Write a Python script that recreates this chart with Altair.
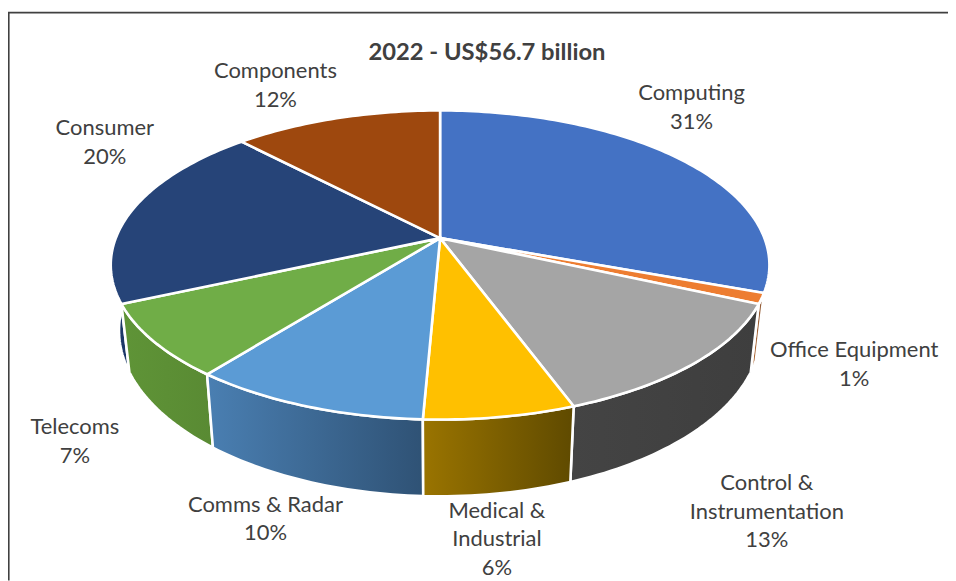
import math
import altair as alt

categories = ["Computing", "Office Equipment", "Control & Instrumentation", "Medical & Industrial",
              "Comms & Radar", "Telecoms", "Consumer", "Components"]
shares = [30.6, 1.1, 12.7, 6.3, 9.95, 7.65, 19.6, 12.1]
percent_labels = ["31%", "1%", "13%", "6%", "10%", "7%", "20%", "12%"]
label_lines = ["Computing", "Office Equipment", "Control &\nInstrumentation", "Medical &\nIndustrial",
               "Comms & Radar", "Telecoms", "Consumer", "Components"]
top_colors = ["#4472C4", "#ED7D31", "#A5A5A5", "#FFC000", "#5B9BD5", "#70AD47", "#264478", "#9E480E"]
wall_stops = [("#2F5597", "#2F5597"), ("#B5682F", "#8A5A3A"), ("#444444", "#3E3E3E"), ("#9A7400", "#5F4A00"),
              ("#4A7FB2", "#2F5275"), ("#5F9437", "#598A33"), ("#1B3768", "#1B3768"), ("#6E3209", "#6E3209")]
title_text = "2022 - US$56.7 billion"

# layout (image pixels): centre of each label's first line
label_firsts = [(693, 93), (856, 350), (768.5, 483), (498, 511), (266, 505), (75, 427), (105, 128), (276, 71)]
MARGIN = 8
CX, CY, A, B, K = 441, 238, 325, 150.2, 0.174
DEPTH, SHRINK = 63.5, 0.975


def project(theta, bottom=False):
    u, v = math.sin(theta), math.cos(theta)
    s = 1 / (1 + K * v)
    x, y = A * u * s, B * v * s
    if bottom:
        return [CX - MARGIN + x * SHRINK, CY - MARGIN - y + DEPTH * s]
    return [CX - MARGIN + x, CY - MARGIN - y]


def arc(t0, t1, bottom=False):
    n = max(2, int(abs(t1 - t0) / 0.02))
    return [project(t0 + (t1 - t0) * i / n, bottom) for i in range(n + 1)]


def feature(name, ring):
    return {"type": "Feature", "properties": {"name": name},
            "geometry": {"type": "Polygon", "coordinates": [ring + [ring[0]]]}}


total = sum(shares)
cum = 0
tops, walls = [], []
for name, share in zip(categories, shares):
    t0 = cum / total * 2 * math.pi
    cum += share
    t1 = cum / total * 2 * math.pi
    apex = [CX - MARGIN, CY - MARGIN]
    tops.append(feature(name, [apex] + arc(t0, t1)))
    walls.append(feature(name, arc(t0, t1) + arc(t1, t0, True)))

proj = alt.Projection(type="identity", scale=1, translate=[0, 0])
W, H = 942, 573

layers = []
draw_order = [0, 1, 7, 6, 5, 2, 4, 3]
for i in draw_order:
    c0, c1 = wall_stops[i]
    grad = {"gradient": "linear", "x1": 0, "y1": 0, "x2": 1, "y2": 0,
            "stops": [{"offset": 0, "color": c0}, {"offset": 1, "color": c1}]}
    layers.append(alt.Chart(alt.Data(values=[walls[i]])).mark_geoshape(
        fill=grad, stroke="white", strokeWidth=2.6).project(**proj.to_dict()))

layers.append(alt.Chart(alt.Data(values=tops)).mark_geoshape(stroke="white", strokeWidth=2.6).encode(
    fill=alt.Fill("properties.name:N", scale=alt.Scale(domain=categories, range=top_colors), legend=None)
).project(**proj.to_dict()))

labels = [{"t": f"{l}\n{p}", "lon": c[0] - MARGIN, "lat": c[1] - MARGIN}
          for l, p, c in zip(label_lines, percent_labels, label_firsts)]
layers.append(alt.Chart(alt.Data(values=labels)).mark_text(
    font="Lato", fontSize=22, color="#404040", lineBreak="\n", lineHeight=29, align="center", baseline="middle"
).encode(text="t:N", longitude="lon:Q", latitude="lat:Q").project(**proj.to_dict()))

layers.append(alt.Chart(alt.Data(values=[{"t": title_text, "lon": 488 - MARGIN, "lat": 52 - MARGIN}])).mark_text(
    font="Lato", fontSize=23.8, fontWeight="bold", color="#404040", align="center", baseline="middle"
).encode(text="t:N", longitude="lon:Q", latitude="lat:Q").project(**proj.to_dict()))

frame = feature("frame", [[0.8, 4], [1000, 4], [1000, 640], [0.8, 640]])
layers.append(alt.Chart(alt.Data(values=[frame])).mark_geoshape(
    fill=None, filled=False, stroke="#404040", strokeWidth=1.6).project(**proj.to_dict()))

chart = alt.layer(*layers).properties(width=W, height=H, padding=0, autosize=alt.AutoSizeParams(type="none")).configure_view(stroke=None)
chart.save("out.html", embed_options={"renderer": "svg", "actions": False})
